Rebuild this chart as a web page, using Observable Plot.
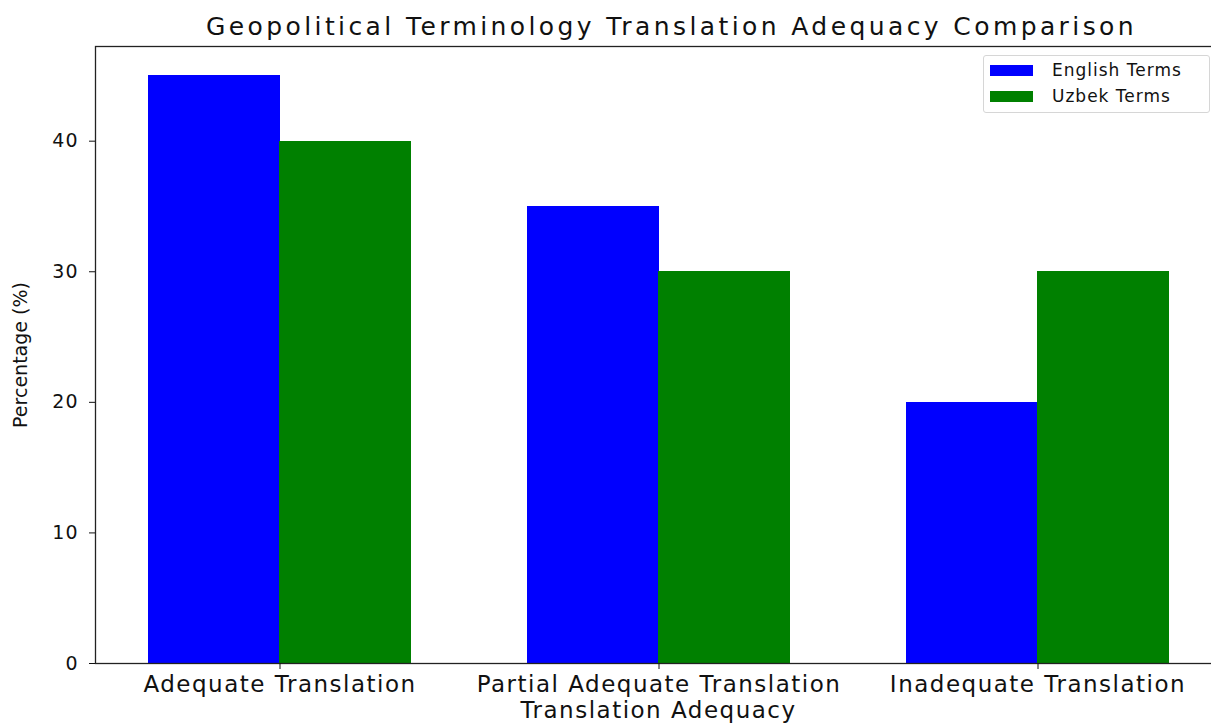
<!DOCTYPE html>
<html><head><meta charset="utf-8">
<script src="https://cdn.jsdelivr.net/npm/d3@7"></script>
<script src="https://cdn.jsdelivr.net/npm/@observablehq/plot@0.6"></script>
<style>
html,body{margin:0;padding:0;background:#fff;overflow:hidden;}
body{width:1211px;height:724px;position:relative;font-family:"DejaVu Sans",sans-serif;color:#111;}
#title{height:40px;line-height:54px;overflow:visible;text-align:center;padding-left:132px;box-sizing:border-box;font-size:25px;letter-spacing:3.4px;white-space:nowrap;}
#chart svg{overflow:visible;}
#legend{position:absolute;left:983px;top:55px;width:227px;height:58px;box-sizing:border-box;border:1px solid #d6d6d6;border-radius:3px;background:rgba(255,255,255,0.8);}
.item{position:absolute;left:6px;height:20px;display:flex;align-items:center;}
.sw{width:43px;height:11px;margin-right:19px;}
.lab{font-size:17px;letter-spacing:1px;white-space:nowrap;}
g[aria-label="x-axis tick label"] text{letter-spacing:1.5px;}
g[aria-label="x-axis label"] text{letter-spacing:1.5px;}
g[aria-label="y-axis tick label"] text{letter-spacing:1px;}
</style></head>
<body>
<div id="title">Geopolitical Terminology Translation Adequacy Comparison</div>
<div id="chart"></div>
<div id="legend"></div>
<script>
const categories = ["Adequate Translation", "Partial Adequate Translation", "Inadequate Translation"];
const series = ["English Terms", "Uzbek Terms"];
const englishValues = [45, 35, 20];
const uzbekValues = [40, 30, 30];
const yTicks = [0, 10, 20, 30, 40];
const colors = ["#0000ff", "#008000"];

const data = categories.flatMap((c, i) => [
  {category: c, series: series[0], value: englishValues[i]},
  {category: c, series: series[1], value: uzbekValues[i]}
]);

const W = 1211, H = 684;
const mL = 95, mR = -10, mT = 6, mB = 61;
const pIn = 0.307, pOut = 0.137;
const xRange = W - mR - mL;
const step = xRange / (categories.length - pIn + 2 * pOut);
const half = step * (1 - pIn) / 2;

const chart = Plot.plot({
  width: W, height: H,
  marginLeft: mL, marginRight: mR, marginTop: mT, marginBottom: mB,
  style: {fontFamily: "DejaVu Sans", background: "white", overflow: "visible", color: "#111"},
  x: {domain: categories, paddingInner: pIn, paddingOuter: pOut, align: 0.5},
  y: {domain: [0, 47.25]},
  color: {domain: series, range: colors},
  marks: [
    Plot.barY(data, {filter: d => d.series === series[0], x: "category", y: "value", fill: "series", insetRight: half - 0.5, shapeRendering: "crispEdges"}),
    Plot.barY(data, {filter: d => d.series === series[1], x: "category", y: "value", fill: "series", insetLeft: half, shapeRendering: "crispEdges"}),
    Plot.frame({stroke: "#222", strokeWidth: 1.3}),
    Plot.axisY({ticks: yTicks, tickSize: 6, tickPadding: 11, fontSize: 19,
      label: "Percentage (%)", labelAnchor: "center", labelArrow: "none", labelOffset: 82}),
    Plot.axisX({tickSize: 6, tickPadding: 6, fontSize: 23,
      label: "Translation Adequacy", labelAnchor: "center", labelArrow: "none", labelOffset: 54})
  ]
});
document.getElementById("chart").appendChild(chart);

const cs = chart.scale("color");
const colorOf = d3.scaleOrdinal(cs.domain, cs.range);
const legend = d3.select("#legend");
series.forEach((s, i) => {
  const it = legend.append("div").attr("class", "item").style("top", (4 + i * 26) + "px");
  it.append("div").attr("class", "sw").style("background", colorOf(s));
  it.append("div").attr("class", "lab").text(s);
});
</script>
</body></html>
